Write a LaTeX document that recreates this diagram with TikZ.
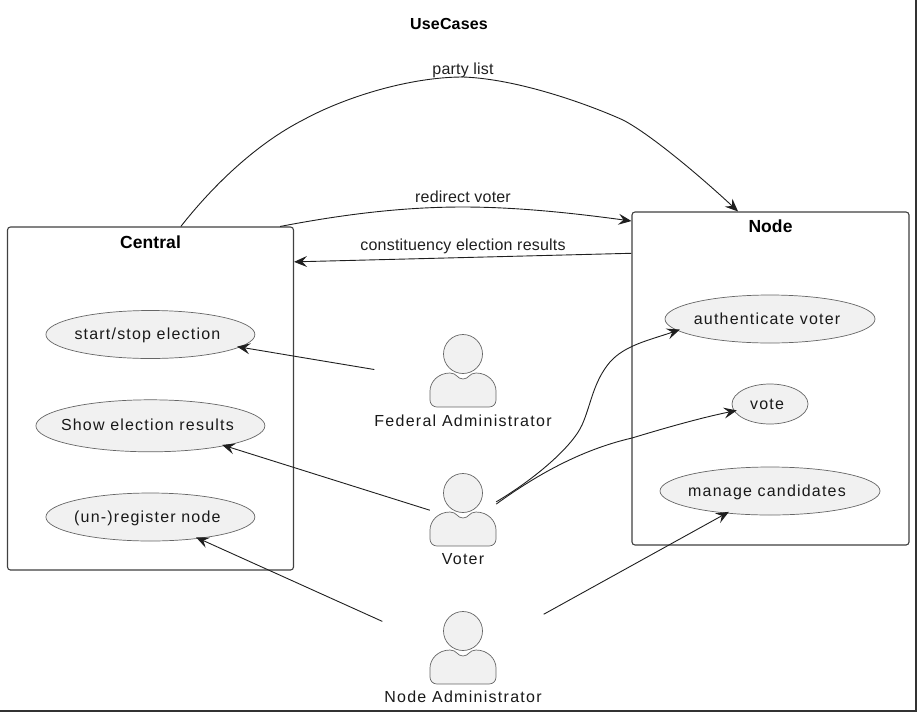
\documentclass[tikz,border=0pt]{standalone}
\usepackage{fontspec}
\setmainfont{Liberation Sans}
\usetikzlibrary{arrows.meta, positioning, shapes.geometric}
\definecolor{usefill}{HTML}{F1F1F1}
\definecolor{useline}{HTML}{666666}
\newcommand{\casetext}[1]{#1\kern6pt} % the texts sit a little left of the middle
\tikzset{
x=1pt, y=-1pt, % same numbers as the pixels of the picture
>={Stealth[length=13pt, width=11pt, inset=5pt]},
every path/.style={color=black!88}, % makes the lines nearly black
flow/.style={->, line width=0.9pt}, % connector between two nodes
tocase/.style={flow, shorten >=-2.5pt}, % the tip runs a little into the ellipse
flowtext/.style={font=\fontsize{16}{18}\selectfont\addfontfeature{LetterSpace=1.2}, inner sep=0pt},
usecase/.style={ellipse, draw=useline, fill=usefill, line width=0.7pt, inner sep=-30pt, outer sep=0pt, text=black!90,
  text height=12pt, text depth=2pt,
  font=\fontsize{16}{18}\selectfont\addfontfeature{LetterSpace=7.5}},
system/.style={draw=black!75, rounded corners=3pt, line width=1.1pt, fill=white},
systemtitle/.style={font=\fontsize{17.5}{20}\selectfont\bfseries\addfontfeature{LetterSpace=0.5}, inner sep=0pt, text=black},
actorbox/.style={minimum height=96pt, inner sep=0pt}, % covers the figure and its name
actorname/.style={font=\fontsize{16}{18}\selectfont\addfontfeature{LetterSpace=8}, inner sep=0pt, text=black!90},
person/.pic={
  \draw[draw=useline, fill=usefill, line width=0.7pt] (0,0) circle[radius=19.5pt];
  \draw[draw=useline, fill=usefill, line width=0.7pt] (-13,19)
    .. controls (-6,19) and (-6,25) .. (0,25) .. controls (6,25) and (6,19) .. (13,19)
    .. controls (25,19) and (33,28) .. (33,37) -- (33,46) .. controls (33,50) and (30,53) .. (26,53)
    -- (-26,53) .. controls (-30,53) and (-33,50) .. (-33,46) -- (-33,37)
    .. controls (-33,28) and (-25,19) .. (-13,19) -- cycle;
},
}
\begin{document}
\begin{tikzpicture}
    \useasboundingbox (0,0) rectangle (917,712);
    \node[font=\fontsize{16}{18}\selectfont\bfseries\addfontfeature{LetterSpace=1}, inner sep=0pt, text=black] (title) at (449,24) {UseCases};
    % Systems
    \node[system, minimum width=286pt, minimum height=343pt] (central) at (150.5,398.5) {};
    \node[system, minimum width=277pt, minimum height=333pt] (nodebox) at (770.5,378.5) {};
    \node[systemtitle, below=9pt of central.north] (centraltitle) {Central};
    \node[systemtitle, below=8.5pt of nodebox.north] (nodetitle) {Node};
    % Use cases
    \node[usecase, minimum width=209pt, minimum height=48pt] (start) at (150.4,334.5) {\casetext{start/stop election}};
    \node[usecase, minimum width=229pt, minimum height=52pt, below of=start, node distance=91.3pt] (results) {\casetext{Show election results}};
    \node[usecase, minimum width=209pt, minimum height=48pt, below of=results, node distance=91.2pt] (register) {\casetext{(un-)register node}};
    \node[usecase, minimum width=210pt, minimum height=48pt] (auth) at (770,319) {\casetext{authenticate voter}};
    \node[usecase, minimum width=76pt, minimum height=40pt, below of=auth, node distance=85pt] (vote) {\casetext{vote}};
    \node[usecase, minimum width=220pt, minimum height=48pt, below of=vote, node distance=87pt] (manage) {\casetext{manage candidates}};
    % Actors
    \node[actorbox, minimum width=177pt] (fed) at (463,382) {};
    \node[actorbox, minimum width=66pt, below of=fed, node distance=139pt] (voter) {};
    \node[actorbox, minimum width=161pt, below of=voter, node distance=138pt] (admin) {};
    \pic at (463,354) {person};
    \pic at (463,493) {person};
    \pic at (463,631) {person};
    \node[actorname, above=3.5pt of fed.south] (fedname) {Federal Administrator};
    \node[actorname, above=4.5pt of voter.south] (votername) {Voter};
    \node[actorname, above=4.5pt of admin.south] (adminname) {Node Administrator};
    % Connectors
    \draw[flow] (central.80) .. controls (215,183) and (258,143) .. (303,120)
      .. controls (345,97) and (410,77) .. (463,77) .. controls (520,79) and (592,106) .. (623,120)
      .. controls (650,134) and (700,176) .. (nodebox.101);
    \draw[flow] (central.53) .. controls (340,215) and (400,207) .. (463,207)
      .. controls (520,207) and (580,214) .. ([yshift=-2.5pt]nodebox.131);
    \draw[tocase] (voter.30) .. controls (530,482) and (571,449) .. (582,425)
      .. controls (591,405) and (593,382) .. (610,362)
      .. controls (625,345) and (650,340) .. (auth.187);
    \draw[tocase] (voter.27) .. controls (535,476) and (580,450) .. (632,438)
      .. controls (665,428) and (700,418) .. (vote.191);
    \path
    (nodebox.138) edge[flow] ([yshift=-2pt]central.44)
    (fed.172) edge[tocase] (start.-8)
    (voter.162) edge[tocase] (results.-15)
    (admin.155) edge[tocase] (register.-24)
    (admin.29) edge[tocase] (manage.207);
    % Edge texts
    \node[flowtext] (partylabel) at (463,70) {party list};
    \node[flowtext] (redirectlabel) at (463,197) {redirect voter};
    \node[flowtext] (resultslabel) at (463,246) {constituency election results};
    % Edge of the screenshot
    \coordinate (cornertop) at (916,0);
    \coordinate (cornerleft) at (0,711);
    \draw[line width=1.5pt, black!80] (cornertop) -- (916,711) -- (cornerleft);
\end{tikzpicture}
\end{document}
